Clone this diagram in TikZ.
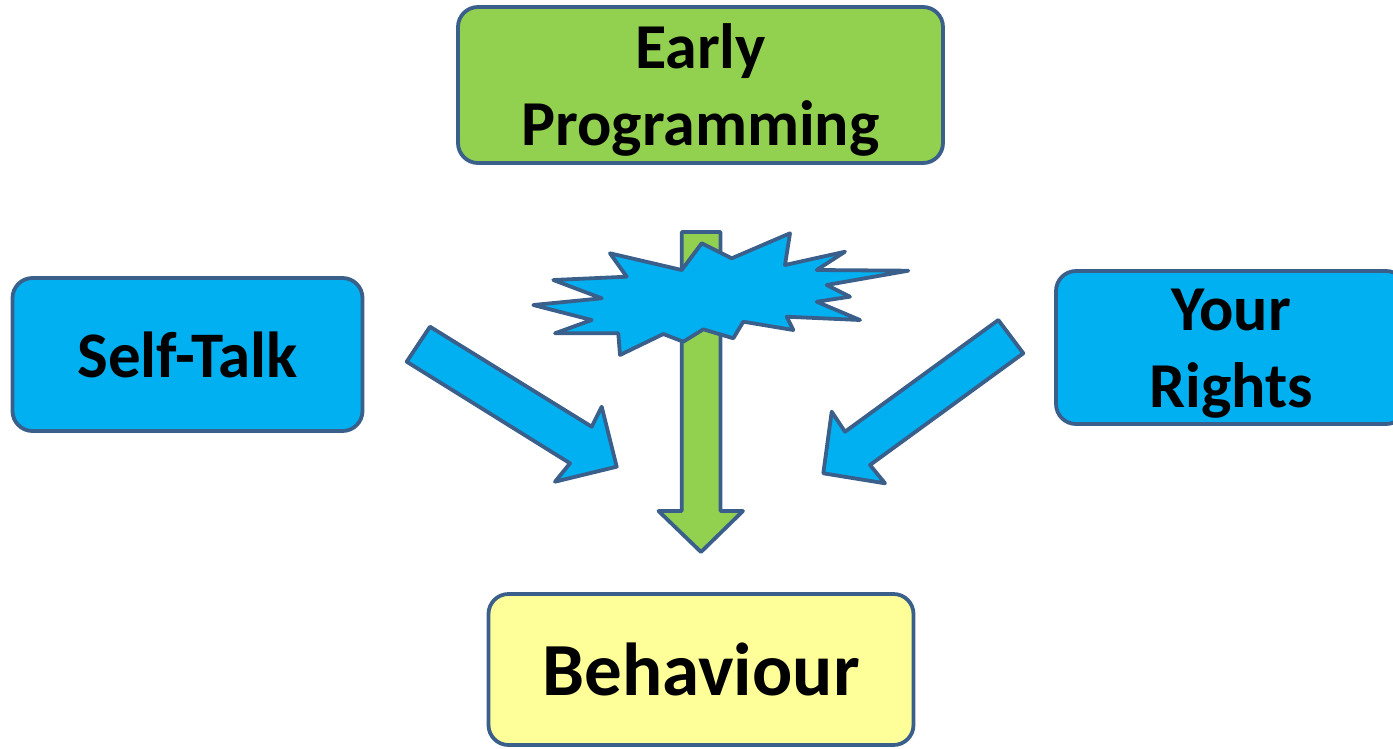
\documentclass[tikz,border=0pt]{standalone}
\usepackage{fontspec}
\setmainfont{Carlito}
\definecolor{edge}{HTML}{3A5F8B}
\definecolor{skyblue}{HTML}{00B0F0}
\definecolor{leaf}{HTML}{92D050}
\definecolor{paleyellow}{HTML}{FFFF99}
\tikzset{
  box/.style={draw=edge, line width=3.8pt, rounded corners=20pt, align=center, inner sep=0pt,
    font=\fontsize{64}{77}\selectfont\bfseries},
  boxtext/.style={font=\fontsize{64}{77}\selectfont\bfseries, align=center, inner sep=0pt},
  blockarrow/.style={draw=edge, line width=3.8pt, line join=round},
}
\begin{document}
\begin{tikzpicture}[x=1pt, y=-1pt]
\useasboundingbox (0,0) rectangle (1393,748);
\clip (0,0) rectangle (1393,748);
% boxes
\node[box, fill=leaf, minimum width=485pt, minimum height=156pt,
  label={[boxtext, yshift=-5pt]center:Early\\Programming}] (ep) at (700.5,85) {};
\node[box, fill=skyblue, minimum width=350pt, minimum height=153pt, font=\fontsize{65}{77}\selectfont\bfseries] (st) at (187.5,354.5) {Self-Talk};
\node[box, fill=skyblue, minimum width=350pt, minimum height=153pt,
  label={[boxtext, yshift=-6pt]center:Your\\Rights}] (yr) at (1231,347.5) {};
\node[box, fill=paleyellow, minimum width=425pt, minimum height=151pt, font=\fontsize{75}{88}\selectfont\bfseries] (bh) at (701,669.5) {Behaviour};
% green down arrow
\draw[blockarrow, fill=leaf] (681.7,232) -- (720.5,232) -- (720.5,511) -- (743,511) -- (701,552) -- (658.5,511) -- (681.7,511) -- cycle;
% starburst
\draw[blockarrow, fill=skyblue] (533.3,305) -- (601.7,298.3) -- (553.3,280) -- (626.7,276.7) -- (610,253.3)
 -- (681.7,270) -- (701.7,243.3) -- (731.7,258.3) -- (790,233.3) -- (785,265) -- (845,251.7)
 -- (816.7,270) -- (908.3,270.7) -- (826.7,285) -- (850,296.7) -- (816.7,301.7) -- (860,320)
 -- (786.7,316.7) -- (793.3,330) -- (743.3,321.7) -- (733.3,338.3) -- (703.3,329.3) -- (683.3,341.7)
 -- (663.3,334) -- (620,355) -- (618.3,333.3) -- (555,333.3) -- (591.7,320) -- cycle;
% left blue arrow
\draw[blockarrow, fill=skyblue] (430,326.7) -- (591.7,426.7) -- (601.7,406.7) -- (616.7,466.7) -- (555,481.7) -- (570,463.3) -- (406.7,361.7) -- cycle;
% right blue arrow
\draw[blockarrow, fill=skyblue] (998.3,320) -- (1023.3,353.3) -- (870,465) -- (885,483.3) -- (823.3,473.3) -- (831.7,411.7) -- (845,431.7) -- cycle;
\end{tikzpicture}
\end{document}
